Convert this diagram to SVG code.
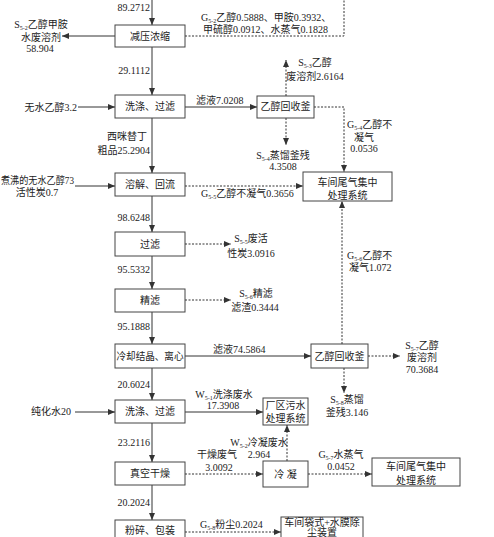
<svg xmlns="http://www.w3.org/2000/svg" width="494" height="537" viewBox="0 0 494 537">
<style>
text{font-family:"Liberation Serif","Noto Sans CJK SC",serif;font-size:10px;fill:#222}
.m{text-anchor:middle}
.e{text-anchor:end}
.s{font-size:6px}
.box{fill:#fff;stroke:#444;stroke-width:1}
.ln{fill:none;stroke:#333;stroke-width:1}
.d{stroke-dasharray:2,1.5}
</style>
<defs>
<marker id="a" markerUnits="userSpaceOnUse" markerWidth="8" markerHeight="6" refX="7" refY="3" orient="auto">
<path d="M0,0 L7,3 L0,6 z" fill="#333"/>
</marker>
</defs>
<rect width="494" height="537" fill="#fff"/>
<g id="connectors">
<path class="ln" d="M152,0 V25" marker-end="url(#a)"/>
<path class="ln" d="M115,36 H62" marker-end="url(#a)"/>
<path class="ln d" d="M185,36 H344 V0"/>
<path class="ln" d="M152,47 V95" marker-end="url(#a)"/>
<path class="ln" d="M78,107 H115" marker-end="url(#a)"/>
<path class="ln" d="M185,107 H257" marker-end="url(#a)"/>
<path class="ln d" d="M286,96 V60" marker-end="url(#a)"/>
<path class="ln d" d="M286,118 V145" marker-end="url(#a)"/>
<path class="ln d" d="M314,107 H344 V172" marker-end="url(#a)"/>
<path class="ln" d="M152,118 V173" marker-end="url(#a)"/>
<path class="ln" d="M75,186 H115" marker-end="url(#a)"/>
<path class="ln d" d="M185,186 H303" marker-end="url(#a)"/>
<path class="ln" d="M152,196 V232" marker-end="url(#a)"/>
<path class="ln d" d="M185,244 H231" marker-end="url(#a)"/>
<path class="ln" d="M152,256 V289" marker-end="url(#a)"/>
<path class="ln d" d="M185,300 H231" marker-end="url(#a)"/>
<path class="ln" d="M152,312 V344" marker-end="url(#a)"/>
<path class="ln" d="M185,356 H311" marker-end="url(#a)"/>
<path class="ln d" d="M368,356 H400" marker-end="url(#a)"/>
<path class="ln d" d="M342,344 V201" marker-end="url(#a)"/>
<path class="ln d" d="M344,368 V393" marker-end="url(#a)"/>
<path class="ln" d="M152,368 V400" marker-end="url(#a)"/>
<path class="ln" d="M75,412 H115" marker-end="url(#a)"/>
<path class="ln" d="M185,412 H263" marker-end="url(#a)"/>
<path class="ln" d="M152,423 V462" marker-end="url(#a)"/>
<path class="ln d" d="M287,461 V425" marker-end="url(#a)"/>
<path class="ln d" d="M185,474 H263" marker-end="url(#a)"/>
<path class="ln d" d="M308,474 H372" marker-end="url(#a)"/>
<path class="ln" d="M152,485 V520" marker-end="url(#a)"/>
<path class="ln d" d="M185,532 H281" marker-end="url(#a)"/>
</g>
<g id="n1"><rect class="box" x="115" y="25" width="70" height="22"/><text class="m" x="150" y="40">减压浓缩</text></g>
<g id="n2"><rect class="box" x="115" y="95" width="70" height="23"/><text class="m" x="150" y="110">洗涤、过滤</text></g>
<g id="n3"><rect class="box" x="115" y="173" width="70" height="23"/><text class="m" x="150" y="188">溶解、回流</text></g>
<g id="n4"><rect class="box" x="115" y="232" width="70" height="24"/><text class="m" x="150" y="248">过滤</text></g>
<g id="n5"><rect class="box" x="115" y="289" width="70" height="23"/><text class="m" x="150" y="304">精滤</text></g>
<g id="n6"><rect class="box" x="115" y="344" width="70" height="24"/><text class="m" x="150" y="360" textLength="67" lengthAdjust="spacingAndGlyphs">冷却结晶、离心</text></g>
<g id="n7"><rect class="box" x="115" y="400" width="70" height="23"/><text class="m" x="150" y="415">洗涤、过滤</text></g>
<g id="n8"><rect class="box" x="115" y="462" width="70" height="23"/><text class="m" x="150" y="477">真空干燥</text></g>
<g id="n9"><rect class="box" x="115" y="520" width="70" height="25"/><text class="m" x="150" y="534">粉碎、包装</text></g>
<g id="r1"><rect class="box" x="257" y="96" width="57" height="22"/><text class="m" x="285.5" y="110">乙醇回收釜</text></g>
<g id="r2"><rect class="box" x="311" y="344" width="57" height="24"/><text class="m" x="339.5" y="360">乙醇回收釜</text></g>
<g id="t1"><rect class="box" x="303" y="172" width="89" height="29"/><text class="m" x="347.5" y="186">车间尾气集中</text><text class="m" x="347.5" y="199">处理系统</text></g>
<g id="w1"><rect class="box" x="263" y="398" width="45" height="27"/><text class="m" x="285.5" y="409">厂区污水</text><text class="m" x="285.5" y="422">处理系统</text></g>
<g id="c1"><rect class="box" x="263" y="461" width="45" height="26"/><text class="m" x="285.5" y="478">冷 凝</text></g>
<g id="t2"><rect class="box" x="372" y="458" width="88" height="28"/><text class="m" x="416" y="470">车间尾气集中</text><text class="m" x="416" y="484">处理系统</text></g>
<g id="b1"><rect class="box" x="281" y="517" width="82" height="30"/><text class="m" x="322" y="526" font-size="9.5">车间袋式+水膜除</text><text class="m" x="322" y="536" font-size="7">尘装置</text></g>
<g id="labels">
<text class="e" x="150" y="11">89.2712</text>
<text class="m" x="41" y="28">S<tspan class="s" dy="2">5-2</tspan><tspan dy="-2">乙醇甲胺</tspan></text>
<text class="m" x="41" y="41">水废溶剂</text>
<text class="m" x="40" y="52">58.904</text>
<text x="201" y="21">G<tspan class="s" dy="2">5-2</tspan><tspan dy="-2">乙醇0.5888、甲胺0.3932、</tspan></text>
<text x="203" y="33">甲硫醇0.0912、水蒸气0.1828</text>
<text class="e" x="150" y="74">29.1112</text>
<text class="e" x="77" y="111">无水乙醇3.2</text>
<text x="196" y="104">滤液7.0208</text>
<text class="m" x="315" y="66">S<tspan class="s" dy="2">5-3</tspan><tspan dy="-2">乙醇</tspan></text>
<text class="m" x="315" y="80">废溶剂2.6164</text>
<text x="347" y="128">G<tspan class="s" dy="2">5-4</tspan><tspan dy="-2">乙醇不</tspan></text>
<text class="m" x="364" y="141">凝气</text>
<text class="m" x="364" y="152">0.0536</text>
<text class="m" x="283" y="159">S<tspan class="s" dy="2">5-4</tspan><tspan dy="-2">蒸馏釜残</tspan></text>
<text class="m" x="283" y="170">4.3508</text>
<text class="m" x="127" y="140">西咪替丁</text>
<text class="e" x="150" y="154">粗品25.2904</text>
<text x="1" y="184" textLength="73" lengthAdjust="spacingAndGlyphs">煮沸的无水乙醇73</text>
<text class="m" x="37" y="196">活性炭0.7</text>
<text x="201" y="197">G<tspan class="s" dy="2">5-5</tspan><tspan dy="-2">乙醇不凝气0.3656</tspan></text>
<text class="e" x="150" y="221">98.6248</text>
<text class="m" x="251" y="242">S<tspan class="s" dy="2">5-5</tspan><tspan dy="-2">废活</tspan></text>
<text class="m" x="251" y="257">性炭3.0916</text>
<text class="e" x="150" y="273">95.5332</text>
<text class="m" x="256" y="297">S<tspan class="s" dy="2">5-6</tspan><tspan dy="-2">精滤</tspan></text>
<text class="m" x="255" y="311">滤渣0.3444</text>
<text x="347" y="259">G<tspan class="s" dy="2">5-6</tspan><tspan dy="-2">乙醇不</tspan></text>
<text x="349" y="271">凝气1.072</text>
<text class="e" x="150" y="330">95.1888</text>
<text x="213" y="353">滤液74.5864</text>
<text class="m" x="422" y="349">S<tspan class="s" dy="2">5-7</tspan><tspan dy="-2">乙醇</tspan></text>
<text class="m" x="422" y="361">废溶剂</text>
<text class="m" x="422" y="373">70.3684</text>
<text class="m" x="347" y="403">S<tspan class="s" dy="2">5-8</tspan><tspan dy="-2">蒸馏</tspan></text>
<text class="m" x="347" y="416">釜残3.146</text>
<text class="e" x="150" y="388">20.6024</text>
<text class="e" x="71" y="415">纯化水20</text>
<text class="m" x="224" y="398">W<tspan class="s" dy="2">5-1</tspan><tspan dy="-2">洗涤废水</tspan></text>
<text class="m" x="223" y="409">17.3908</text>
<text class="e" x="150" y="446">23.2116</text>
<text class="m" x="259" y="446">W<tspan class="s" dy="2">5-2</tspan><tspan dy="-2">冷凝废水</tspan></text>
<text class="m" x="259" y="458">2.964</text>
<text class="m" x="217" y="458">干燥废气</text>
<text class="m" x="219" y="471">3.0092</text>
<text class="m" x="341" y="458">G<tspan class="s" dy="2">5-7</tspan><tspan dy="-2">水蒸气</tspan></text>
<text class="m" x="341" y="470">0.0452</text>
<text class="e" x="150" y="506">20.2024</text>
<text x="200" y="528">G<tspan class="s" dy="2">5-8</tspan><tspan dy="-2">粉尘0.2024</tspan></text>
</g>
</svg>
